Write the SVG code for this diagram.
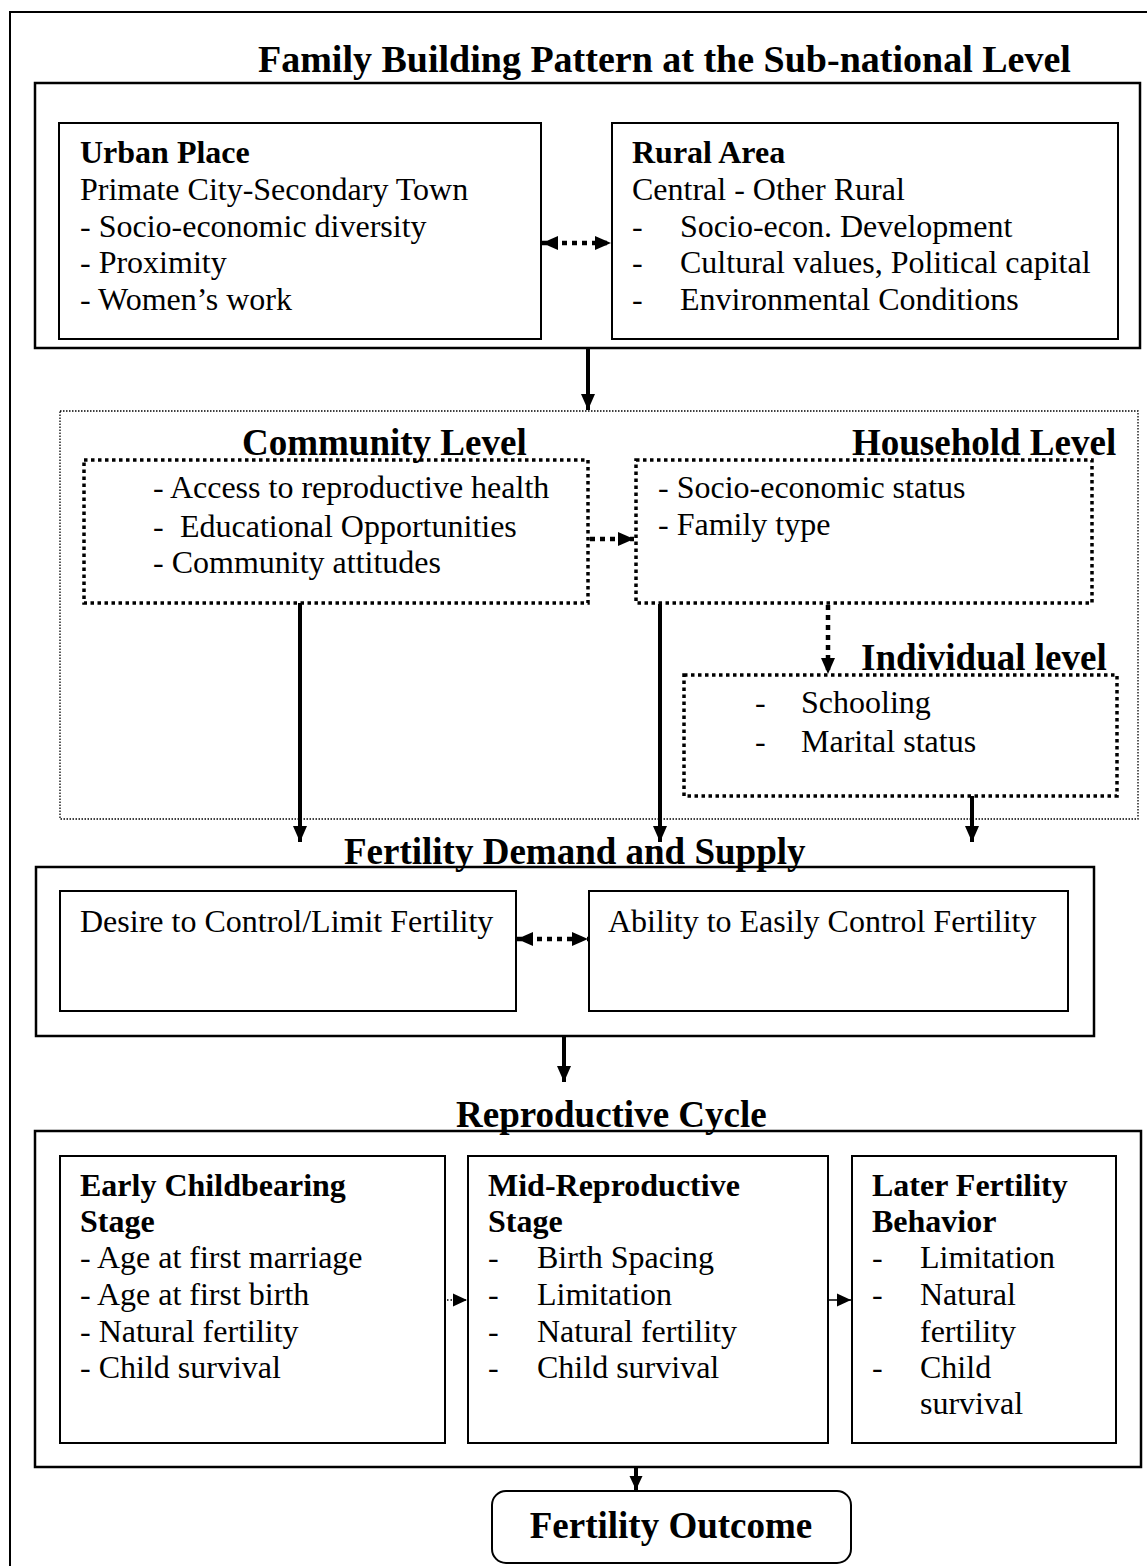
<svg xmlns="http://www.w3.org/2000/svg" width="1147" height="1566" viewBox="0 0 1147 1566">
<defs>
<style>
.t{font-family:"Liberation Serif","Times New Roman",serif;font-size:32px;fill:#000}
.b{font-weight:bold}
.h{font-family:"Liberation Serif","Times New Roman",serif;font-size:37px;font-weight:bold;fill:#000}
.box{fill:#fff;stroke:#000;stroke-width:2}
.frame{fill:none;stroke:#000;stroke-width:2.5}
.dbox{fill:none;stroke:#000;stroke-width:3.5;stroke-dasharray:3.5 3.5}
.thin{fill:none;stroke:#000;stroke-width:1.3;stroke-dasharray:1.5 1.5}
.ar{stroke:#000;stroke-width:4;fill:none}
.da{stroke:#000;stroke-width:4.5;stroke-dasharray:5 5;fill:none}
</style>
<marker id="ah" markerUnits="userSpaceOnUse" markerWidth="16" markerHeight="16" refX="16" refY="8" orient="auto-start-reverse" viewBox="0 0 16 16"><path d="M0,1 L16,8 L0,15 z" fill="#000"/></marker>
<marker id="sh" markerUnits="userSpaceOnUse" markerWidth="14" markerHeight="14" refX="14" refY="7" orient="auto" viewBox="0 0 14 14"><path d="M0,0.5 L14,7 L0,13.5 z" fill="#000"/></marker>
</defs>
<rect x="0" y="0" width="1147" height="1566" fill="#fff"/>
<path d="M10,1570 V12 H1150" fill="none" stroke="#000" stroke-width="2"/>
<text class="h" x="258" y="72" style="font-size:38px">Family Building Pattern at the Sub-national Level</text>

<g id="subnational"><rect class="frame" x="35" y="83" width="1105" height="265"/></g>
<g id="urban">
<rect class="box" x="59" y="123" width="482" height="216"/>
<text class="t b" x="80" y="163">Urban Place</text>
<text class="t" x="80" y="200">Primate City-Secondary Town</text>
<text class="t" x="80" y="237">- Socio-economic diversity</text>
<text class="t" x="80" y="273">- Proximity</text>
<text class="t" x="80" y="310">- Women’s work</text>
</g>
<g id="rural">
<rect class="box" x="612" y="123" width="506" height="216"/>
<text class="t b" x="632" y="163">Rural Area</text>
<text class="t" x="632" y="200">Central - Other Rural</text>
<text class="t" x="632" y="237">-</text><text class="t" x="680" y="237">Socio-econ. Development</text>
<text class="t" x="632" y="273">-</text><text class="t" x="680" y="273">Cultural values, Political capital</text>
<text class="t" x="632" y="310">-</text><text class="t" x="680" y="310">Environmental Conditions</text>
</g>

<g id="levels"><rect class="thin" x="60" y="411" width="1078" height="408"/></g>
<g id="community">
<rect class="dbox" x="84" y="460" width="504" height="143"/>
<text class="h" x="242" y="455">Community Level</text>
<text class="t" x="153" y="498">- Access to reproductive health</text>
<text class="t" x="153" y="537">-</text><text class="t" x="180" y="537">Educational Opportunities</text>
<text class="t" x="153" y="573">- Community attitudes</text>
</g>
<g id="household">
<rect class="dbox" x="636" y="460" width="456" height="143"/>
<text class="h" x="852" y="455">Household Level</text>
<text class="t" x="658" y="498">- Socio-economic status</text>
<text class="t" x="658" y="535">- Family type</text>
</g>
<g id="individual">
<rect class="dbox" x="684" y="675" width="433" height="121"/>
<text class="h" x="861" y="670">Individual level</text>
<text class="t" x="755" y="713">-</text><text class="t" x="801" y="713">Schooling</text>
<text class="t" x="755" y="752">-</text><text class="t" x="801" y="752">Marital status</text>
</g>

<g id="demand"><rect class="frame" x="36" y="867" width="1058" height="169"/>
<text class="h" x="344" y="864">Fertility Demand and Supply</text></g>
<g id="desire"><rect class="box" x="60" y="891" width="456" height="120"/>
<text class="t" x="80" y="932">Desire to Control/Limit Fertility</text></g>
<g id="ability"><rect class="box" x="589" y="891" width="479" height="120"/>
<text class="t" x="608" y="932">Ability to Easily Control Fertility</text></g>

<g id="cycle"><rect class="frame" x="35" y="1131" width="1106" height="336"/>
<text class="h" x="456" y="1127">Reproductive Cycle</text></g>
<g id="early"><rect class="box" x="60" y="1156" width="385" height="287"/>
<text class="t b" x="80" y="1196">Early Childbearing</text>
<text class="t b" x="80" y="1232">Stage</text>
<text class="t" x="80" y="1268">- Age at first marriage</text>
<text class="t" x="80" y="1305">- Age at first birth</text>
<text class="t" x="80" y="1342">- Natural fertility</text>
<text class="t" x="80" y="1378">- Child survival</text>
</g>
<g id="mid"><rect class="box" x="468" y="1156" width="360" height="287"/>
<text class="t b" x="488" y="1196">Mid-Reproductive</text>
<text class="t b" x="488" y="1232">Stage</text>
<text class="t" x="488" y="1268">-</text><text class="t" x="537" y="1268">Birth Spacing</text>
<text class="t" x="488" y="1305">-</text><text class="t" x="537" y="1305">Limitation</text>
<text class="t" x="488" y="1342">-</text><text class="t" x="537" y="1342">Natural fertility</text>
<text class="t" x="488" y="1378">-</text><text class="t" x="537" y="1378">Child survival</text>
</g>
<g id="later"><rect class="box" x="852" y="1156" width="264" height="287"/>
<text class="t b" x="872" y="1196">Later Fertility</text>
<text class="t b" x="872" y="1232">Behavior</text>
<text class="t" x="872" y="1268">-</text><text class="t" x="920" y="1268">Limitation</text>
<text class="t" x="872" y="1305">-</text><text class="t" x="920" y="1305">Natural</text>
<text class="t" x="920" y="1342">fertility</text>
<text class="t" x="872" y="1378">-</text><text class="t" x="920" y="1378">Child</text>
<text class="t" x="920" y="1414">survival</text>
</g>
<g id="outcome"><rect class="box" x="492" y="1491" width="359" height="72" rx="14"/>
<text class="h" x="671" y="1538" text-anchor="middle">Fertility Outcome</text></g>

<g id="connectors">
<line class="da" x1="542" y1="243" x2="611" y2="243" marker-start="url(#ah)" marker-end="url(#ah)"/>
<line class="ar" x1="588" y1="348" x2="588" y2="410" marker-end="url(#ah)"/>
<line class="da" x1="590" y1="539" x2="634" y2="539" marker-end="url(#ah)"/>
<line class="da" x1="828" y1="605" x2="828" y2="674" marker-end="url(#ah)"/>
<line class="ar" x1="300" y1="603" x2="300" y2="842" marker-end="url(#ah)"/>
<line class="ar" x1="660" y1="604" x2="660" y2="842" marker-end="url(#ah)"/>
<line class="ar" x1="972" y1="796" x2="972" y2="842" marker-end="url(#ah)"/>
<line class="da" x1="517" y1="939" x2="588" y2="939" marker-start="url(#ah)" marker-end="url(#ah)"/>
<line class="ar" x1="564" y1="1036" x2="564" y2="1082" marker-end="url(#ah)"/>
<line x1="447" y1="1300" x2="467" y2="1300" stroke="#000" stroke-width="1.5" stroke-dasharray="1.5 2" marker-end="url(#sh)"/>
<line x1="829" y1="1300" x2="851" y2="1300" stroke="#000" stroke-width="1.5" marker-end="url(#sh)"/>
<line class="ar" x1="636" y1="1467" x2="636" y2="1490" marker-end="url(#sh)"/>
</g>
</svg>
